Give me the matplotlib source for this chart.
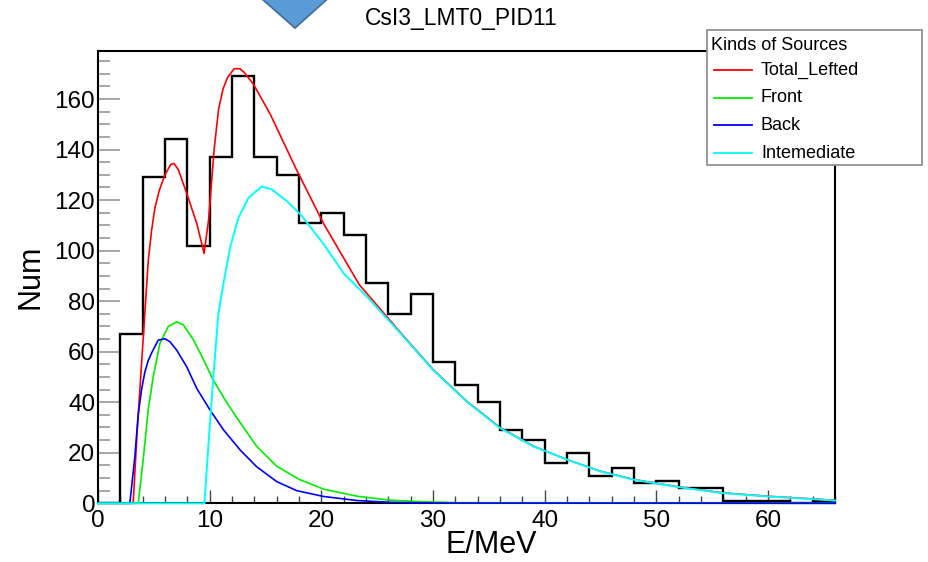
import matplotlib
matplotlib.use("Agg")
import matplotlib.pyplot as plt
from matplotlib.patches import Polygon, Rectangle
from matplotlib.lines import Line2D
from matplotlib.ticker import MultipleLocator

plt.rcParams['font.family'] = ['Liberation Sans', 'DejaVu Sans']

# ---------------- data ----------------
bin_edges = list(range(0, 68, 2))
counts = [0, 67, 129, 144, 102, 137, 169, 137, 130, 111, 115, 106, 87, 75, 83,
          56, 47, 40, 29, 25, 16, 20, 11, 14, 8, 9, 6, 6, 1, 1, 1, 0, 1]

total_x = [0, 3.15, 3.5, 4.0, 4.5, 4.8, 5.1, 5.5, 6.0, 6.5, 6.8, 7.2, 7.95, 8.85,
           9.5, 9.9, 10.4, 10.8, 11.2, 11.6, 12.2, 12.7, 13.05, 13.9, 15.4, 17.8,
           20.2, 23.4, 27.1, 30, 33, 36, 39, 42, 45, 48, 52, 56, 60, 66]
total_y = [0, 0, 28, 62, 96, 108, 117, 124, 130, 134, 134.5, 132, 122.6, 110.7,
           98.9, 112, 140, 156, 164, 168.5, 172, 172, 170.7, 166, 154.2, 131.8,
           110.7, 86.5, 67.5, 53, 40.5, 30, 22.6, 17.3, 12.7, 9.4, 6.5, 4.1, 2.8, 1.2]

front_x = [0, 3.6, 4.05, 4.5, 4.95, 5.55, 6.3, 7.05, 7.65, 8.55, 9.45, 10.3, 11.55,
           12.75, 14.2, 16.0, 18.0, 20.2, 23.2, 26.0, 28.6, 32.2, 66]
front_y = [0, 0, 17.4, 37, 50.2, 63.4, 70, 71.8, 70.6, 64.7, 56.8, 48.9, 39.7,
           31.8, 22.6, 14.7, 9.5, 5.6, 2.8, 1.3, 0.7, 0.2, 0]

back_x = [0, 2.85, 3.3, 3.6, 3.9, 4.2, 4.5, 4.8, 5.4, 6.0, 6.45, 7.05, 7.95, 8.85,
          10.05, 11.25, 12.75, 14.2, 16.0, 17.8, 20.2, 23.2, 26.2, 30, 66]
back_y = [0, 0, 18.5, 35, 45, 52, 56.5, 59.5, 64.6, 65.1, 63.9, 60.6, 54.0, 45.4,
          36.8, 29.0, 21.0, 14.5, 8.6, 5.0, 2.7, 1.1, 0.4, 0.1, 0]

inter_x = [0, 9.53, 9.9, 10.33, 10.78, 11.23, 11.83, 12.58, 13.48, 14.67, 15.57,
           16.92, 18.2, 20.2, 22.0, 24.1, 27.1, 30.0, 33.0, 36.0, 39.0, 42.0, 45.0,
           48.0, 52.0, 56.0, 60.0, 66.0]
inter_y = [0, 0, 23.8, 50.2, 75, 86.9, 101.2, 113, 120.9, 125.4, 124.2, 119.6, 114,
           102.6, 91, 81.7, 67.2, 52.8, 40.3, 29.8, 22.5, 17.3, 12.6, 9.3, 6.4, 4.0,
           2.7, 1.1]

legend_labels = ["Total_Lefted", "Front", "Back", "Intemediate"]
legend_colors = ["#ff0000", "#00ee00", "#0000ff", "#00ffff"]

W, H = 929, 562
def fx(x):
    return x / W
def fy(y):
    return 1 - y / H

fig = plt.figure(figsize=(W / 100, H / 100), dpi=100)
fig.patch.set_facecolor('white')

ax = fig.add_axes([fx(98), fy(503.3), fx(835) - fx(98), fy(51) - fy(503.3)])
ax.set_xlim(0, 66)
ax.set_ylim(0, 179)

ax.stairs(counts, bin_edges, color='black', lw=1.7, zorder=2)
ax.plot(total_x, total_y, color=legend_colors[0], lw=1.2, zorder=3, clip_on=False)
ax.plot(front_x, front_y, color=legend_colors[1], lw=1.2, zorder=4, clip_on=False)
ax.plot(back_x, back_y, color=legend_colors[2], lw=1.2, zorder=5, clip_on=False)
ax.plot(inter_x, inter_y, color=legend_colors[3], lw=1.4, zorder=6, clip_on=False)

for s in ax.spines.values():
    s.set_color('black')
    s.set_linewidth(1.5)

ax.xaxis.set_major_locator(MultipleLocator(10))
ax.xaxis.set_minor_locator(MultipleLocator(2))
ax.yaxis.set_major_locator(MultipleLocator(20))
ax.yaxis.set_minor_locator(MultipleLocator(5))
ax.set_yticks(range(0, 161, 20))

ax.tick_params(axis='y', which='major', direction='in', length=16, width=1.3,
               color='#a0a0a0', labelsize=17.5, pad=2)
ax.tick_params(axis='y', which='minor', direction='in', length=8.5, width=1.3,
               color='#a0a0a0')
ax.tick_params(axis='x', which='major', direction='in', length=9.5, width=1,
               color='#444444', labelsize=17.5, pad=5)
ax.tick_params(axis='x', which='minor', direction='in', length=5, width=1,
               color='#444444')

fig.text(fx(491), fy(545), "E/MeV", fontsize=22, ha='center', va='center')
fig.text(fx(31), fy(277), "Num", fontsize=22, ha='center', va='center', rotation=90)
fig.text(fx(461), fy(18), "CsI3_LMT0_PID11", fontsize=16.5, ha='center', va='center')

# legend box
lx0, ly0, lx1, ly1 = 707, 30, 922, 165
fig.patches.append(Rectangle((fx(lx0), fy(ly1)), fx(lx1) - fx(lx0), fy(ly0) - fy(ly1),
                             transform=fig.transFigure, facecolor='white',
                             edgecolor='#8a8a8a', lw=1.2, zorder=10))
fig.text(fx(711), fy(45), "Kinds of Sources", fontsize=13, ha='left', va='center', zorder=11)
for i, (lab, col) in enumerate(zip(legend_labels, legend_colors)):
    yy = 70 + i * 27.7
    fig.lines.append(Line2D([fx(714), fx(752)], [fy(yy), fy(yy)], transform=fig.transFigure,
                            color=col, lw=1.3, zorder=11))
    fig.text(fx(761), fy(yy), lab, fontsize=13, ha='left', va='center', zorder=11)

# blue arrow tip at top
fig.patches.append(Polygon([(fx(261), fy(-2)), (fx(295), fy(28)), (fx(328.5), fy(-2))],
                           closed=True, transform=fig.transFigure,
                           facecolor='#5b9bd5', edgecolor='#41719c', lw=1.3, zorder=12))

fig.savefig("out.png", dpi=100)
